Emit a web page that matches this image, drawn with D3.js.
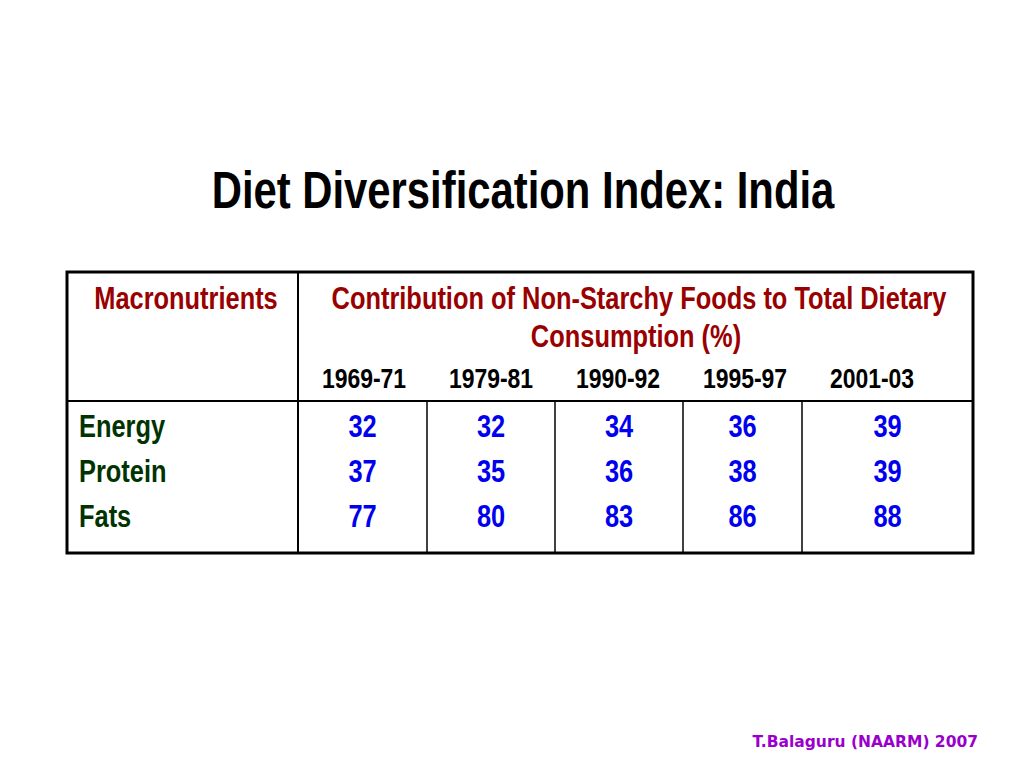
<!DOCTYPE html>
<html>
<head>
<meta charset="utf-8">
<script src="https://cdn.jsdelivr.net/npm/d3@7"></script>
<style>
  body { margin: 0; background: #fff; }
  svg text { font-family: "Arial Narrow", "Liberation Sans", Arial, sans-serif; font-weight: bold; }
</style>
</head>
<body>
<div id="slide"></div>
<script>
// data
const nutrients = ["Energy", "Protein", "Fats"];
const periods = ["1969-71", "1979-81", "1990-92", "1995-97", "2001-03"];
const energy = [32, 32, 34, 36, 39];
const protein = [37, 35, 36, 38, 39];
const fats = [77, 80, 83, 86, 88];
const values = [energy, protein, fats];

const width = 1024, height = 768;
// no narrow face installed, so squeeze the regular one
const narrow = 0.82;

// table frame
const table = { left: 67, right: 973, top: 272, bottom: 553, head: 401, split: 298 };
const colWidths = [129, 128, 128, 119, 171];

const svg = d3.select("#slide")
    .append("svg")
    .attr("width", width)
    .attr("height", height)
    .attr("viewBox", [0, 0, width, height]);

const squeeze = (x, y) => `translate(${x},${y}) scale(${narrow},1)`;

// title
svg.append("text")
    .attr("transform", squeeze(523, 208))
    .attr("text-anchor", "middle")
    .attr("font-size", "51px")
    .attr("fill", "#000")
    .text("Diet Diversification Index: India");

// cell edges from the widths
let edges = [table.split];
colWidths.forEach((w) => edges.push(edges[edges.length - 1] + w));

let cellX = d3.scaleOrdinal()
    .domain(periods)
    .range(periods.map((p, i) => (edges[i] + edges[i + 1]) / 2));

let yearX = d3.scalePoint()
    .domain(periods)
    .range([364, 872]);

let rowY = d3.scalePoint()
    .domain(nutrients)
    .range([437, 527]);

// grid lines
const grid = svg.append("g").attr("stroke", "#000");

grid.selectAll("line.col")
    .data(edges.slice(1, -1))
    .enter()
    .append("line")
    .attr("class", "col")
    .attr("x1", (d) => d)
    .attr("x2", (d) => d)
    .attr("y1", table.head)
    .attr("y2", table.bottom)
    .attr("stroke-width", 1.5);

grid.append("line")
    .attr("x1", table.split).attr("x2", table.split)
    .attr("y1", table.top).attr("y2", table.bottom)
    .attr("stroke-width", 2);

grid.append("line")
    .attr("x1", table.left).attr("x2", table.right)
    .attr("y1", table.head).attr("y2", table.head)
    .attr("stroke-width", 2);

grid.append("rect")
    .attr("x", table.left)
    .attr("y", table.top)
    .attr("width", table.right - table.left)
    .attr("height", table.bottom - table.top)
    .attr("fill", "none")
    .attr("stroke-width", 3);

// header
const head = svg.append("g")
    .attr("font-size", "31px")
    .attr("text-anchor", "middle")
    .attr("fill", "#990000");

head.append("text")
    .attr("transform", squeeze(186, 309))
    .text("Macronutrients");

head.append("text")
    .attr("transform", squeeze(639, 309))
    .text("Contribution of Non-Starchy Foods to Total Dietary");

head.append("text")
    .attr("transform", squeeze(636, 347))
    .text("Consumption (%)");

svg.selectAll("text.year")
    .data(periods)
    .enter()
    .append("text")
    .attr("class", "year")
    .attr("transform", (d) => squeeze(yearX(d), 388))
    .attr("text-anchor", "middle")
    .attr("font-size", "28px")
    .attr("fill", "#000")
    .text((d) => d);

// row labels
svg.selectAll("text.nutrient")
    .data(nutrients)
    .enter()
    .append("text")
    .attr("class", "nutrient")
    .attr("transform", (d) => squeeze(79, rowY(d)))
    .attr("font-size", "31px")
    .attr("fill", "#003300")
    .text((d) => d);

// values
const rows = svg.selectAll("g.row")
    .data(nutrients)
    .enter()
    .append("g")
    .attr("class", "row");

rows.selectAll("text")
    .data((d, i) => periods.map((p, j) => ({ nutrient: d, period: p, value: values[i][j] })))
    .enter()
    .append("text")
    .attr("transform", (d) => squeeze(cellX(d.period), rowY(d.nutrient)))
    .attr("text-anchor", "middle")
    .attr("font-size", "31px")
    .attr("fill", "#0000ee")
    .text((d) => d.value);

// footer
svg.append("text")
    .attr("x", 978)
    .attr("y", 747)
    .attr("text-anchor", "end")
    .attr("font-size", "15.5px")
    .style("font-family", "Verdana, 'DejaVu Sans', sans-serif")
    .attr("fill", "#9900cc")
    .text("T.Balaguru (NAARM) 2007");
</script>
</body>
</html>
